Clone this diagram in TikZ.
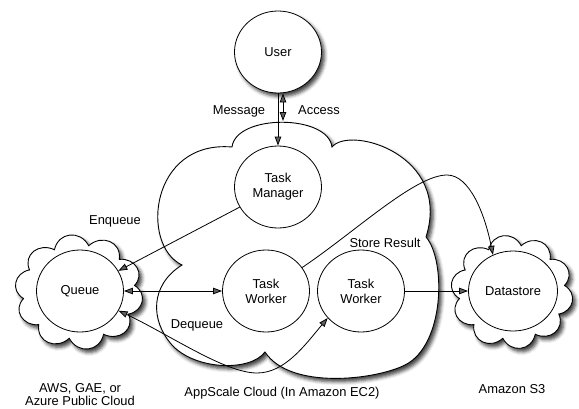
\documentclass[tikz,border=0pt]{standalone}
\usepackage{fontspec}
\setmainfont{Liberation Sans}
\usetikzlibrary{shapes.geometric,arrows.meta,shadows.blur,calc}
\newcommand\puffcloud[6]{% name, cx, cy, rx, ry, offset
  \foreach \i in {0,...,10} { \coordinate (#1\i) at ($(#2,#3)+(#6+\i*36:#4 and #5)$); }
  \path[draw, line width=0.9pt, fill=white, shad] (#10)
    \foreach \i [evaluate=\i as \oo using -(#6+\i*36-18+20), evaluate=\i as \ii using -(#6+\i*36-18-20)] in {1,...,10} {
      to[out=\oo, in=\ii, looseness=1.35] (#1\i)
    } -- cycle;}
\begin{document}
\begin{tikzpicture}[x=1pt,y=-1pt,
  font=\fontsize{12.9}{15}\selectfont,
  shad/.style={blur shadow={shadow xshift=3pt,shadow yshift=-3.5pt,shadow blur radius=3.5pt,shadow opacity=75}},
  orb/.style={ellipse, draw, line width=0.8pt, fill=white, minimum width=87pt, minimum height=82pt, inner sep=0pt, align=center},
  conn/.style={line width=0.8pt},
  arr/.style={-{Triangle[length=9pt,width=6.5pt]}},
  arrtwo/.style={{Triangle[length=9pt,width=6.5pt]}-{Triangle[length=9pt,width=6.5pt]}},
  lbl/.style={anchor=base, inner sep=0pt, align=center},
]
\useasboundingbox (0,0) rectangle (579,408);

% AppScale cloud
\path[draw, line width=0.9pt, fill=white, shad]
 (232,147) .. controls (236,114) and (328,114) .. (332,147)
 .. controls (350,125) and (452,155) .. (426,237)
 .. controls (446,260) and (445,345) .. (405,365)
 .. controls (375,380) and (290,390) .. (265,352)
 .. controls (250,372) and (195,370) .. (172,345)
 .. controls (150,320) and (150,285) .. (182,265)
 .. controls (140,245) and (150,140) .. (232,147) -- cycle;

% side clouds
\puffcloud{qc}{79}{292}{56}{47}{-8}
\puffcloud{dc}{512}{292}{53}{47}{-8}

% circles
\node[orb, shad] (user) at (278,52) {User};
\node[orb] (tm) at (278,187) {Task\\Manager};
\node[orb] (w1) at (266,291) {Task\\Worker};
\node[orb] (w2) at (361,291) {Task\\Worker};
\node[orb] (queue) at (80,291) {Queue};
\node[orb, minimum width=89pt, minimum height=80pt] (ds) at (513,291) {Datastore};

\coordinate (acc) at (283,121);

% connectors
\draw[conn, arr] (user) -- (tm);
\draw[conn, arrtwo] (user.south -| acc) -- (acc);
\draw[conn, arr] (tm) -- (queue);
\draw[conn, arrtwo] (queue) -- (w1);
\draw[conn, arrtwo] (queue.-27) .. controls (170,335) and (225,373) .. (257,373)
  .. controls (285,373) and (305,345) .. (w2.219);
\draw[conn, arr] (w1.33) .. controls (355,232) and (415,175) .. (447,175)
  .. controls (470,175) and (485,215) .. (ds.119);
\draw[conn, arr] (w2) -- (ds);

% labels
\node[lbl] at (239,114) {Message};
\node[lbl] at (319,114) {Access};
\node[lbl] at (115,224) {Enqueue};
\node[lbl] at (197,328) {Dequeue};
\node[lbl] at (385,247) {Store Result};
\node[lbl] at (282,396.5) {AppScale Cloud (In Amazon EC2)};
\node[lbl] at (512,393) {Amazon S3};
\node[lbl] at (80,392.5) {AWS, GAE, or};
\node[lbl] at (80,405.5) {Azure Public Cloud};
\end{tikzpicture}
\end{document}
